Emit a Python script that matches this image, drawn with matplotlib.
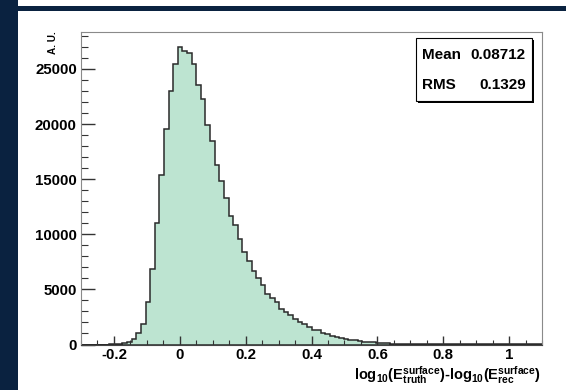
import numpy as np
import matplotlib
matplotlib.use("Agg")
import matplotlib.pyplot as plt
from matplotlib.patches import Rectangle
from matplotlib.ticker import MultipleLocator

# histogram content, 100 bins from -0.3 to 1.1
x_lo, x_hi, n_bins = -0.3, 1.1, 100
counts = [
    0, 0, 0, 0, 0, 0, 5, 15, 40, 110,
    250, 530, 1000, 1900, 3900, 6850, 11000, 15350, 19580, 22950,
    25450, 27000, 26580, 26400, 25400, 23530, 22230, 19910, 18460, 16290,
    14840, 13270, 11670, 10860, 9580, 8390, 7540, 6640, 6030, 5430,
    4580, 4220, 3830, 3230, 2930, 2650, 2350, 2080, 1850, 1600,
    1360, 1270, 1060, 970, 815, 695, 600, 540, 450, 390,
    330, 270, 240, 210, 150, 120, 95, 80, 70, 60,
    50, 44, 38, 33, 28, 24, 21, 18, 16, 14,
    12, 11, 10, 9, 8, 7, 7, 6, 5, 5,
    4, 4, 3, 3, 3, 2, 2, 2, 2, 1,
]
stat_names = ["Mean", "RMS"]
stat_values = ["0.08712", "0.1329"]
x_ticks = [-0.2, 0, 0.2, 0.4, 0.6, 0.8, 1]
x_ticklabels = ["-0.2", "0", "0.2", "0.4", "0.6", "0.8", "1"]
y_ticks = [0, 5000, 10000, 15000, 20000, 25000]

plt.rcParams['font.family'] = 'Liberation Sans'
plt.rcParams['font.weight'] = 'bold'
plt.rcParams['mathtext.fontset'] = 'custom'
plt.rcParams['mathtext.rm'] = 'Liberation Sans:bold'
plt.rcParams['mathtext.it'] = 'Liberation Sans:bold'
plt.rcParams['mathtext.bf'] = 'Liberation Sans:bold'

navy = '#0a2240'
fig = plt.figure(figsize=(5.66, 3.90), dpi=100)
fig.patch.set_facecolor('white')
# slide decoration: left strip and top band
fig.patches.append(Rectangle((0, 0), 18.3 / 566, 1, transform=fig.transFigure,
                             facecolor=navy, edgecolor='none', zorder=0))
fig.patches.append(Rectangle((0, 1 - 11 / 390), 1, 5.3 / 390, transform=fig.transFigure,
                             facecolor=navy, edgecolor='none', zorder=0))

ax = fig.add_axes([81 / 566, (390 - 344.5) / 390, 461 / 566, 312 / 390])

edges = np.linspace(x_lo, x_hi, n_bins + 1)
centers = 0.5 * (edges[:-1] + edges[1:])
ax.hist(centers, bins=edges, weights=counts, histtype='stepfilled',
        facecolor='#bde4d1', edgecolor='#2a2a2a', linewidth=1.1)

ax.set_xlim(x_lo, x_hi)
ax.set_ylim(0, 28300)
ax.set_xticks(x_ticks)
ax.set_xticklabels(x_ticklabels)
ax.set_yticks(y_ticks)
ax.xaxis.set_minor_locator(MultipleLocator(0.05))
ax.yaxis.set_minor_locator(MultipleLocator(1000))
ax.tick_params(axis='both', which='both', direction='in', top=False, right=False,
               colors='#333333', labelcolor='black', labelsize=10.8)
ax.tick_params(axis='y', which='major', length=10, width=1, pad=3)
ax.tick_params(axis='y', which='minor', length=5, width=0.8)
ax.tick_params(axis='x', which='major', length=6.5, width=1, pad=2.5)
ax.tick_params(axis='x', which='minor', length=3.5, width=0.8)
for side in ['left', 'top', 'right']:
    ax.spines[side].set_color('#8a8a8a')
ax.spines['bottom'].set_color('#444444')

ax.text(-0.061, 1.003, 'A. U.', transform=ax.transAxes, rotation=90,
        ha='center', va='top', fontsize=7.2, fontweight='bold')
ax.text(0.998, -0.063,
        r'$\mathrm{log_{10}(E^{surface}_{truth})\text{-}log_{10}(E^{surface}_{rec})}$',
        transform=ax.transAxes, ha='right', va='top', fontsize=10.5)

# stats box with shadow
bx0, bx1, by0, by1 = 0.726, 0.9777, 0.7814, 0.9814
ax.add_patch(Rectangle((bx0 + 0.004, by0 - 0.006), bx1 - bx0, by1 - by0,
                       transform=ax.transAxes, facecolor='black', edgecolor='none', zorder=4))
ax.add_patch(Rectangle((bx0, by0), bx1 - bx0, by1 - by0, transform=ax.transAxes,
                       facecolor='white', edgecolor='black', linewidth=0.8, zorder=5))
for name, val, yy in zip(stat_names, stat_values, [0.928, 0.832]):
    ax.text(0.739, yy, name, transform=ax.transAxes, ha='left', va='center',
            fontsize=11, fontweight='bold', zorder=6)
    ax.text(0.9646, yy, val, transform=ax.transAxes, ha='right', va='center',
            fontsize=11, fontweight='bold', zorder=6)

fig.savefig('out.png', dpi=100)
